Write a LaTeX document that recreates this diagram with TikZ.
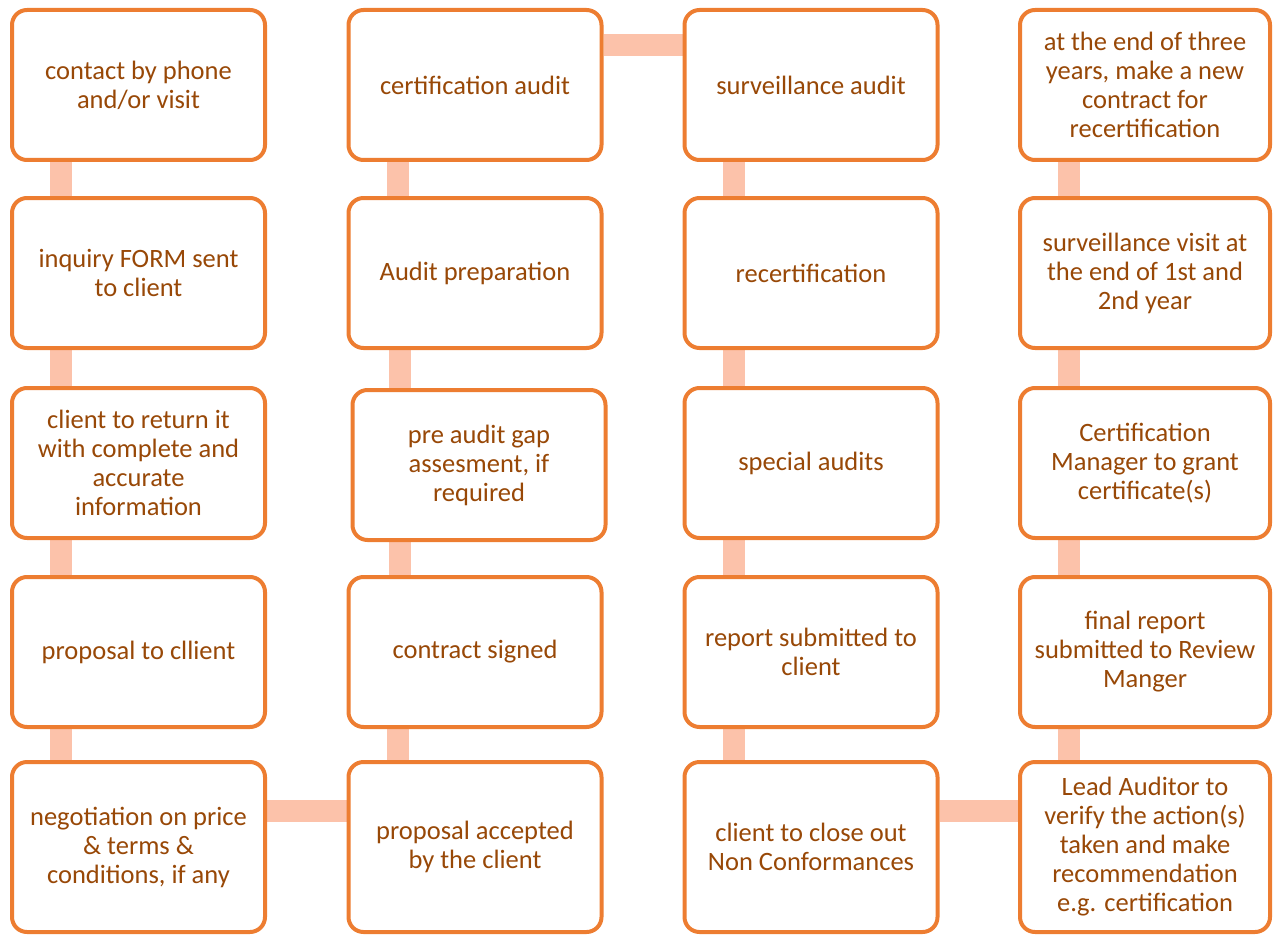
\documentclass[tikz,border=0pt]{standalone}
\usepackage{fontspec}
\setmainfont{Carlito}
\usetikzlibrary{backgrounds}
\definecolor{boxline}{HTML}{ED7D31}
\definecolor{boxtext}{HTML}{984807}
\definecolor{conncol}{HTML}{FCC2AA}
\begin{document}
\begin{tikzpicture}[x=1pt,y=-1pt,
  box/.style={draw=boxline, line width=4pt, fill=white, rounded corners=15pt,
    minimum width=253pt, minimum height=150pt, align=center, text=boxtext,
    font=\fontsize{26.5}{29}\selectfont, inner sep=0pt},
  tallbox/.style={box, minimum height=170pt},
  conn/.style={draw=conncol, line width=22pt}]
\useasboundingbox (0,0) rectangle (1273,936);
% column 1
\node[box] (a1) at (138.5,85) {contact by phone\\and/or visit};
\node[box] (a2) at (138.5,273) {inquiry FORM sent\\to client};
\node[box] (a3) at (138.5,463) {client to return it\\with complete and\\accurate\\information};
\node[box] (a4) at (138.5,652) {proposal to cllient};
\node[tallbox] (a5) at (138.5,847) {negotiation on price\\\& terms \&\\conditions, if any};
% column 2
\node[box] (b1) at (475,85) {certification audit};
\node[box] (b2) at (475,273) {Audit preparation};
\node[box] (b3) at (479,465) {pre audit gap\\assesment, if\\required};
\node[box] (b4) at (475,652) {contract signed};
\node[tallbox] (b5) at (475,847) {proposal accepted\\by the client};
% column 3
\node[box] (c1) at (811,85) {surveillance audit};
\node[box] (c2) at (811,273) {recertification};
\node[box] (c3) at (811,463) {special audits};
\node[box] (c4) at (811,652) {report submitted to\\client};
\node[tallbox] (c5) at (811,847) {client to close out\\Non Conformances};
% column 4
\node[box,minimum width=250pt] (d1) at (1145,85) {at the end of three\\years, make a new\\contract for\\recertification};
\node[box,minimum width=250pt] (d2) at (1145,273) {surveillance visit at\\the end of 1st and\\2nd year};
\node[box,minimum width=250pt] (d3) at (1145,463) {Certification\\Manager to grant\\certificate(s)};
\node[box,minimum width=250pt] (d4) at (1145,652) {final report\\submitted to Review\\Manger};
\node[tallbox,minimum width=250pt] (d5) at (1145,847) {Lead Auditor to\\verify the action(s)\\taken and make\\recommendation\\e.g. certification};
\begin{scope}[on background layer]
  \draw[conn] ([xshift=51pt]a1.south west) -- ([xshift=51pt]a2.north west);
  \draw[conn] ([xshift=51pt]a2.south west) -- ([xshift=51pt]a3.north west);
  \draw[conn] ([xshift=51pt]a3.south west) -- ([xshift=51pt]a4.north west);
  \draw[conn] ([xshift=51pt]a4.south west) -- ([xshift=51pt]a5.north west);
  \draw[conn] ([yshift=36pt]a5.east) -- ([yshift=36pt]b5.west);
  \draw[conn] ([xshift=51pt]b5.north west) -- ([xshift=51pt]b4.south west);
  \draw[conn] ([xshift=53pt]b4.north west) -- ([xshift=53pt]b4.north west |- b3.south);
  \draw[conn] ([xshift=53pt]b2.south west |- b3.north) -- ([xshift=53pt]b2.south west);
  \draw[conn] ([xshift=51pt]b2.north west) -- ([xshift=51pt]b1.south west);
  \draw[conn] ([yshift=40pt]b1.east) -- ([yshift=40pt]c1.west);
  \draw[conn] ([xshift=51pt]c1.south west) -- ([xshift=51pt]c2.north west);
  \draw[conn] ([xshift=51pt]c2.south west) -- ([xshift=51pt]c3.north west);
  \draw[conn] ([xshift=51pt]c3.south west) -- ([xshift=51pt]c4.north west);
  \draw[conn] ([xshift=51pt]c4.south west) -- ([xshift=51pt]c5.north west);
  \draw[conn] ([yshift=36pt]c5.east) -- ([yshift=36pt]d5.west);
  \draw[conn] ([xshift=51pt]d5.north west) -- ([xshift=51pt]d4.south west);
  \draw[conn] ([xshift=51pt]d4.north west) -- ([xshift=51pt]d3.south west);
  \draw[conn] ([xshift=51pt]d3.north west) -- ([xshift=51pt]d2.south west);
  \draw[conn] ([xshift=51pt]d2.north west) -- ([xshift=51pt]d1.south west);
\end{scope}
\end{tikzpicture}
\end{document}
